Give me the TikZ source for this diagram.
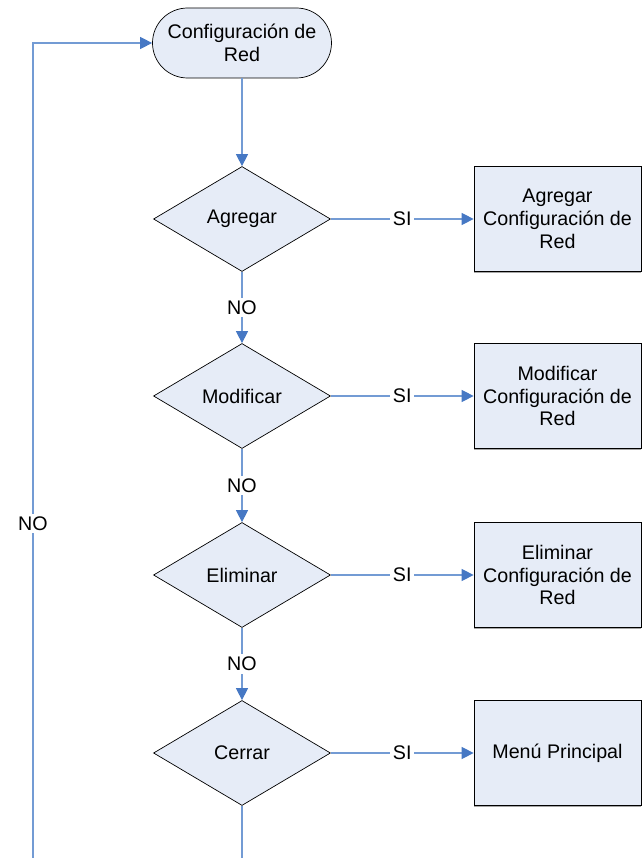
\documentclass[tikz,border=0pt]{standalone}
\usepackage{fontspec}
\setmainfont{Liberation Sans}
\usetikzlibrary{positioning,arrows.meta,shapes.geometric,shadows}
\definecolor{flowblue}{RGB}{70,120,196}
\definecolor{flowline}{RGB}{115,155,212}
\definecolor{flowfill}{RGB}{230,236,247}

\begin{document}
\begin{tikzpicture}[>={Triangle[length=0.24cm,width=0.24cm,color=flowblue]},
  every node/.style={font=\fontsize{11.2}{13}\selectfont},
  decision/.style={draw, diamond, fill=flowfill, inner sep=0pt, minimum width=3.54cm, minimum height=2.1cm},
  action/.style={draw, fill=flowfill, align=center, minimum width=3.34cm, minimum height=2.1cm, inner sep=1pt,
    drop shadow={shadow xshift=0pt, shadow yshift=-0.9pt, fill=black!35, opacity=1}},
  flow/.style={draw=flowline, line width=0.6pt},
  lbl/.style={fill=white, inner sep=1.5pt}]
  \useasboundingbox (0,0) rectangle (12.84,17.16);

  \node[draw, fill=flowfill, rounded corners=0.7cm, minimum width=3.58cm, minimum height=1.4cm, align=center] (start) at (4.84,16.30) {Configuración de\\Red};
  \node[decision] (d1) at (4.84,12.78) {Agregar};
  \node[decision] (d2) at (4.84,9.24) {Modificar};
  \node[decision] (d3) at (4.84,5.66) {Eliminar};
  \node[decision] (d4) at (4.84,2.10) {Cerrar};
  \node[action] (a1) at (11.15,12.78) {Agregar\\Configuración de\\Red};
  \node[action] (a2) at (11.15,9.24) {Modificar\\Configuración de\\Red};
  \node[action] (a3) at (11.15,5.66) {Eliminar\\Configuración de\\Red};
  \node[action] (a4) at (11.15,2.10) {Menú Principal};
  \coordinate (loopbot) at (0.66,0);
  \coordinate (endbot) at (4.84,0);

  \draw[flow,->] (start) -- (d1);
  \draw[flow,->] (d1) -- node[lbl]{NO} (d2);
  \draw[flow,->] (d2) -- node[lbl]{NO} (d3);
  \draw[flow,->] (d3) -- node[lbl]{NO} (d4);
  \draw[flow,->] (d1) -- node[lbl]{SI} (a1);
  \draw[flow,->] (d2) -- node[lbl]{SI} (a2);
  \draw[flow,->] (d3) -- node[lbl]{SI} (a3);
  \draw[flow,->] (d4) -- node[lbl]{SI} (a4);
  \draw[flow] (d4) -- (endbot);
  % back to the start
  \draw[flow,->] (loopbot) -- node[lbl, pos=0.41]{NO} (loopbot |- start.west) -- (start.west);
\end{tikzpicture}
\end{document}
